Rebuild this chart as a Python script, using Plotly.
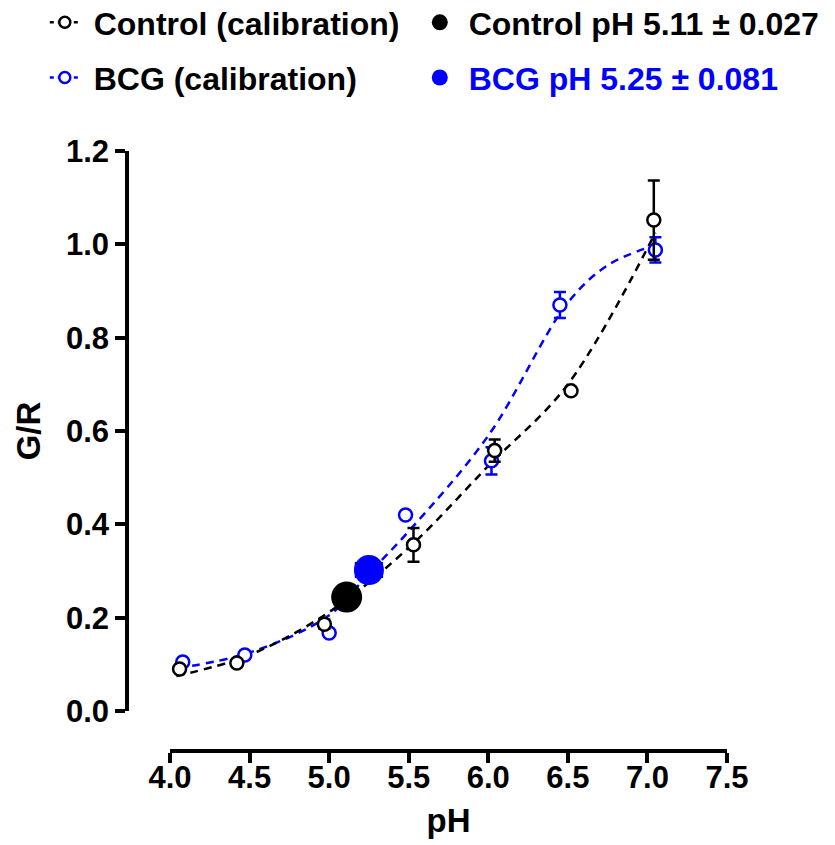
import plotly.graph_objects as go

# Calibration measurements (G/R ratio vs pH), mean ± error
ph_control = [4.06, 4.42, 4.97, 5.53, 6.04, 6.52, 7.04]
gr_control = [0.090, 0.103, 0.186, 0.356, 0.558, 0.686, 1.052]
err_control = [0.005, 0.005, 0.010, 0.036, 0.024, 0.006, 0.085]

ph_bcg = [4.08, 4.47, 5.00, 5.48, 6.02, 6.45, 7.05]
gr_bcg = [0.105, 0.120, 0.167, 0.420, 0.536, 0.870, 0.988]
err_bcg = [0.005, 0.005, 0.005, 0.006, 0.029, 0.028, 0.027]

# Fitted calibration curves
fit_ph_control = [4.04, 4.5, 5.0, 5.5, 6.0, 6.5, 7.05]
fit_gr_control = [0.075, 0.120, 0.212, 0.350, 0.525, 0.700, 1.025]
fit_ph_bcg = [4.05, 4.5, 5.0, 5.25, 5.5, 6.0, 6.5, 6.75, 7.02]
fit_gr_bcg = [0.092, 0.125, 0.205, 0.295, 0.385, 0.590, 0.875, 0.955, 0.995]

# Interpolated sample pH values
sample_ph_control, sample_gr_control, sample_err_control = [5.11], [0.244], [0.027]
sample_ph_bcg, sample_gr_bcg, sample_err_bcg = [5.25], [0.302], [0.081]

BLACK = "#000000"
BLUE = "#0000FF"
FONT = "Liberation Sans, Arial, sans-serif"
DASH = "8px,6px"
NB = "\u00a0"

fig = go.Figure()

# fitted curves
fig.add_trace(go.Scatter(x=fit_ph_bcg, y=fit_gr_bcg, mode="lines",
                         line=dict(color=BLUE, width=2.5, dash=DASH, shape="spline"),
                         showlegend=False, hoverinfo="skip"))
fig.add_trace(go.Scatter(x=fit_ph_control, y=fit_gr_control, mode="lines",
                         line=dict(color=BLACK, width=2.5, dash=DASH, shape="spline"),
                         showlegend=False, hoverinfo="skip"))

# calibration points
fig.add_trace(go.Scatter(x=ph_bcg, y=gr_bcg, mode="markers",
                         marker=dict(symbol="circle", size=13, color="white",
                                     line=dict(color=BLUE, width=2.5)),
                         error_y=dict(type="data", array=err_bcg, color=BLUE,
                                      thickness=2.5, width=6),
                         showlegend=False))
fig.add_trace(go.Scatter(x=ph_control, y=gr_control, mode="markers",
                         marker=dict(symbol="circle", size=13, color="white",
                                     line=dict(color=BLACK, width=2.5)),
                         error_y=dict(type="data", array=err_control, color=BLACK,
                                      thickness=2.5, width=6),
                         showlegend=False))

# sample points with horizontal error
fig.add_trace(go.Scatter(x=sample_ph_control, y=sample_gr_control, mode="markers",
                         marker=dict(size=31, color=BLACK),
                         error_x=dict(type="data", array=sample_err_control, color=BLACK,
                                      thickness=2.5, width=8),
                         showlegend=False))
fig.add_trace(go.Scatter(x=sample_ph_bcg, y=sample_gr_bcg, mode="markers",
                         marker=dict(size=30, color=BLUE),
                         error_x=dict(type="data", array=sample_err_bcg, color=BLUE,
                                      thickness=2.5, width=8),
                         showlegend=False))

# legend entries, one legend box each so they sit in a 2x2 grid
fig.add_trace(go.Scatter(x=[None], y=[None], mode="lines+markers",
                         name=NB + "Control (calibration)",
                         line=dict(color=BLACK, width=2.5, dash="4px,4px"),
                         marker=dict(size=11, color="white", line=dict(color=BLACK, width=2.5)),
                         legend="legend"))
fig.add_trace(go.Scatter(x=[None], y=[None], mode="markers",
                         name=NB + "Control pH 5.11 ± 0.027",
                         marker=dict(size=31, color=BLACK), legend="legend2"))
fig.add_trace(go.Scatter(x=[None], y=[None], mode="lines+markers",
                         name=NB + "BCG (calibration)",
                         line=dict(color=BLUE, width=2.5, dash="4px,4px"),
                         marker=dict(size=11, color="white", line=dict(color=BLUE, width=2.5)),
                         legend="legend3"))
fig.add_trace(go.Scatter(x=[None], y=[None], mode="markers",
                         name=NB + "<span style='color:#0000FF'>BCG pH 5.25 ± 0.081</span>",
                         marker=dict(size=30, color=BLUE), legend="legend4"))

axis_font = dict(family=FONT, size=31, color=BLACK, weight="bold")
title_font = dict(family=FONT, size=33, color=BLACK, weight="bold")
legend_common = dict(orientation="h", xanchor="left", yanchor="top",
                     bgcolor="rgba(0,0,0,0)", borderwidth=0,
                     font=dict(family=FONT, size=32, color=BLACK, weight="bold"),
                     itemsizing="trace", itemwidth=30)

col1, col2 = -0.137, 0.488
row1, row2 = 1.260, 1.168

fig.update_layout(
    width=835, height=845,
    margin=dict(l=127, r=108, t=151, b=94, autoexpand=False),
    plot_bgcolor="white", paper_bgcolor="white",
    xaxis=dict(range=[4.0, 7.5], domain=[0.0717, 1], anchor="free", position=0,
               tickvals=[4.0, 4.5, 5.0, 5.5, 6.0, 6.5, 7.0, 7.5], tickformat=".1f",
               showline=True, linecolor=BLACK, linewidth=3.5,
               ticks="outside", ticklen=10, tickwidth=3.5, tickcolor=BLACK,
               ticklabelstandoff=-12,
               showgrid=False, zeroline=False, tickfont=axis_font,
               title=dict(text="pH", font=title_font, standoff=14)),
    yaxis=dict(range=[0, 1.2], domain=[0.0667, 1], anchor="free", position=0,
               tickvals=[0, 0.2, 0.4, 0.6, 0.8, 1.0, 1.2], tickformat=".1f",
               showline=True, linecolor=BLACK, linewidth=3.5,
               ticks="outside", ticklen=10, tickwidth=3.5, tickcolor=BLACK,
               showgrid=False, zeroline=False, tickfont=axis_font,
               title=dict(text="G/R", font=title_font, standoff=14)),
    legend=dict(x=col1, y=row1, **legend_common),
    legend2=dict(x=col2, y=row1, **legend_common),
    legend3=dict(x=col1, y=row2, **legend_common),
    legend4=dict(x=col2, y=row2, **legend_common),
)

fig.write_html("out.html")
